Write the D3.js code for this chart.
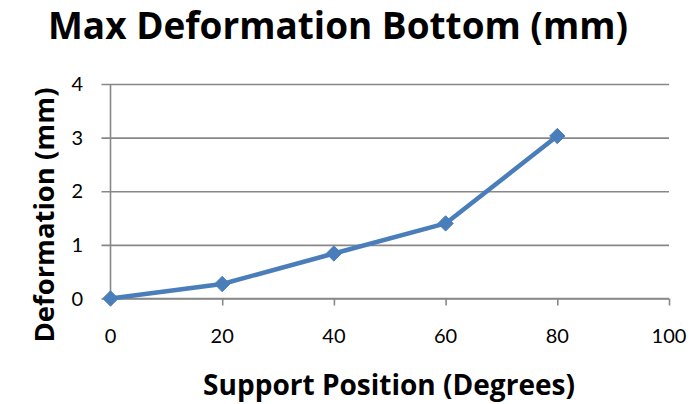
<!DOCTYPE html>
<html>
<head>
<meta charset="utf-8">
<script src="https://cdn.jsdelivr.net/npm/d3@7"></script>
<style>
  html, body { margin: 0; padding: 0; background: #fff; }
  svg { display: block; }
  text { fill: #000; }
</style>
</head>
<body>
<svg id="chart" width="693" height="404"></svg>
<script>
// Support position (degrees) and maximum bottom deformation (mm)
const positions = [0, 20, 40, 60, 80];
const deformation = [0, 0.27, 0.84, 1.40, 3.03];
const xTicks = [0, 20, 40, 60, 80, 100];
const yTicks = [0, 1, 2, 3, 4];

const svg = d3.select("#chart");
const plot = { left: 110.5, right: 669, top: 84, bottom: 298.5 };
const labelFont = "Lato, 'Open Sans', sans-serif";
const titleFont = "'Open Sans', Lato, sans-serif";

const x = d3.scaleLinear().domain([0, 100]).range([plot.left, plot.right]);
const y = d3.scaleLinear().domain([0, 4]).range([plot.bottom, plot.top]);

const gridColor = "#888888";

// horizontal gridlines (with outside tick stubs on the left)
svg.append("g")
  .attr("transform", `translate(${plot.left},0)`)
  .call(d3.axisLeft(y).tickValues(yTicks).tickSize(-(plot.right - plot.left)).tickFormat(""))
  .call(g => g.select(".domain").remove())
  .call(g => g.selectAll("line").attr("stroke", gridColor).attr("stroke-width", 1.6)
     .attr("x1", -9));

// y tick labels
svg.append("g")
  .selectAll("text")
  .data(yTicks)
  .join("text")
  .attr("x", 83)
  .attr("y", d => y(d))
  .attr("dy", "0.36em")
  .attr("text-anchor", "end")
  .attr("font-family", labelFont)
  .attr("font-size", 20)
  .text(d => d);

// x axis
svg.append("g")
  .attr("transform", `translate(0,${plot.bottom})`)
  .call(d3.axisBottom(x).tickValues(xTicks).tickSize(7).tickFormat(""))
  .call(g => g.select(".domain").attr("stroke", gridColor).attr("stroke-width", 1.6)
     .attr("d", `M${plot.left},0H${plot.right}`))
  .call(g => g.selectAll(".tick line").attr("stroke", gridColor).attr("stroke-width", 1.6));

// y axis line
svg.append("line")
  .attr("x1", plot.left).attr("x2", plot.left)
  .attr("y1", plot.top).attr("y2", plot.bottom)
  .attr("stroke", gridColor).attr("stroke-width", 1.6);

// x tick labels
svg.append("g")
  .selectAll("text")
  .data(xTicks)
  .join("text")
  .attr("x", d => x(d))
  .attr("y", 343)
  .attr("text-anchor", "middle")
  .attr("font-family", labelFont)
  .attr("font-size", 20)
  .text(d => d);

// data line
const pts = positions.map((p, i) => [p, deformation[i]]);
svg.append("path")
  .datum(pts)
  .attr("fill", "none")
  .attr("stroke", "#4a7ebb")
  .attr("stroke-width", 4.5)
  .attr("stroke-linejoin", "round")
  .attr("d", d3.line().x(d => x(d[0])).y(d => y(d[1])));

// diamond markers
svg.append("g")
  .selectAll("path")
  .data(pts)
  .join("path")
  .attr("transform", d => `translate(${x(d[0])},${y(d[1])})`)
  .attr("d", d3.symbol().type(d3.symbolDiamond2).size(150)())
  .attr("fill", "#4a7ebb")
  .attr("stroke", "#4a7ebb")
  .attr("stroke-width", 1);

// bold text scaled so that it spans the given width
function fitted(sel, width, startSize) {
  sel.attr("font-family", titleFont).attr("font-weight", "bold").attr("font-size", startSize);
  const w = sel.node().getComputedTextLength();
  sel.attr("font-size", startSize * width / w);
  return sel;
}

fitted(svg.append("text")
  .attr("x", 338).attr("y", 39)
  .attr("text-anchor", "middle")
  .text("Max Deformation Bottom (mm)"), 580, 33);

fitted(svg.append("text")
  .attr("x", 389).attr("y", 395)
  .attr("text-anchor", "middle")
  .text("Support Position (Degrees)"), 372, 24);

fitted(svg.append("text")
  .attr("transform", "translate(54,215) rotate(-90)")
  .attr("text-anchor", "middle")
  .text("Deformation (mm)"), 255, 24);
</script>
</body>
</html>
